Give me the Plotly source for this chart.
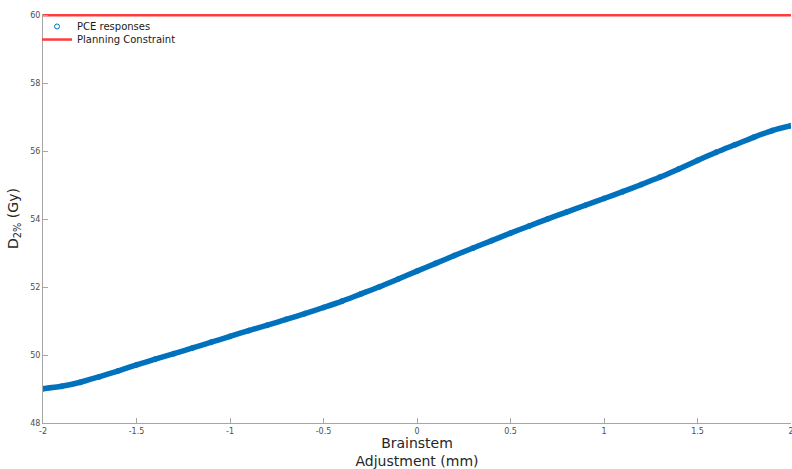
import plotly.graph_objects as go

# Brainstem adjustment (mm) and PCE surrogate D2% responses (Gy)
adjustment_mm = [
    -2.0, -1.9, -1.8, -1.7, -1.6, -1.5, -1.4, -1.3, -1.2, -1.1,
    -1.0, -0.9, -0.8, -0.7, -0.6, -0.5, -0.4, -0.3, -0.2, -0.1,
    0.0, 0.1, 0.2, 0.3, 0.4, 0.5, 0.6, 0.7, 0.8, 0.9,
    1.0, 1.1, 1.2, 1.3, 1.4, 1.5, 1.6, 1.7, 1.8, 1.9, 2.0,
]
d2_gy = [
    49.01, 49.08, 49.20, 49.36, 49.53, 49.71, 49.88, 50.04, 50.21, 50.38,
    50.55, 50.72, 50.88, 51.05, 51.22, 51.40, 51.59, 51.80, 52.01, 52.24,
    52.47, 52.70, 52.93, 53.15, 53.37, 53.59, 53.80, 54.01, 54.21, 54.41,
    54.61, 54.81, 55.02, 55.24, 55.48, 55.73, 55.97, 56.19, 56.41, 56.61, 56.75,
]

constraint_x = [-2.0, 2.0]
constraint_gy = [60.0, 60.0]

x_ticks = [-2, -1.5, -1, -0.5, 0, 0.5, 1, 1.5, 2]
x_tick_text = ["-2", "-1.5", "-1", "-0.5", "0", "0.5", "1", "1.5", "2"]
y_ticks = [48, 50, 52, 54, 56, 58, 60]

blue = "#0072BD"
red = "#FF3B3B"
axis_grey = "#A6A6A6"

fig = go.Figure()

# dense band of responses
fig.add_trace(go.Scatter(
    x=adjustment_mm, y=d2_gy, mode="lines",
    line=dict(color=blue, width=5.5, shape="spline", smoothing=0.8),
    showlegend=False, hoverinfo="skip",
))
fig.add_trace(go.Scatter(
    x=adjustment_mm, y=d2_gy, mode="markers", name="PCE responses",
    marker=dict(symbol="circle-open", size=5, color=blue,
                line=dict(width=1, color=blue)),
    legend="legend",
))
fig.add_trace(go.Scatter(
    x=constraint_x, y=constraint_gy, mode="lines", name="Planning Constraint",
    line=dict(color=red, width=2.5), legend="legend2",
))

legend_style = dict(
    xanchor="left", yanchor="top", bgcolor="rgba(0,0,0,0)",
    font=dict(size=10, color="#1a1a1a"), itemwidth=30,
)

fig.update_layout(
    width=792, height=469,
    margin=dict(l=43, r=1, t=14, b=46, autoexpand=False),
    paper_bgcolor="white", plot_bgcolor="white",
    font=dict(family="DejaVu Sans", color="#262626"),
    legend=dict(x=-0.008, y=1.005, **legend_style),
    legend2=dict(x=-0.008, y=0.973, **legend_style),
    xaxis=dict(
        range=[-2, 2], tickvals=x_ticks, ticktext=x_tick_text,
        ticks="inside", ticklen=5, tickcolor=axis_grey,
        showline=True, linecolor=axis_grey, linewidth=1,
        showgrid=False, zeroline=False, ticklabeloverflow="allow",
        automargin=False,
        tickfont=dict(size=8, color="#4d4d4d"),
        title=dict(text="Brainstem<br>Adjustment (mm)",
                   font=dict(size=14, color="#262626"), standoff=4),
    ),
    yaxis=dict(
        range=[48, 60.04], tickvals=y_ticks,
        ticks="inside", ticklen=5, tickcolor=axis_grey,
        showline=True, linecolor=axis_grey, linewidth=1,
        showgrid=False, zeroline=False, automargin=False,
        tickfont=dict(size=8, color="#4d4d4d"),
        title=dict(text="D<sub>2%</sub> (Gy)",
                   font=dict(size=14, color="#262626"), standoff=8),
    ),
)

fig.write_html("out.html")
